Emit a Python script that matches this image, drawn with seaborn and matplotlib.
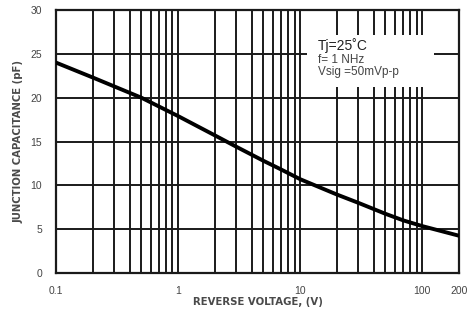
import matplotlib
matplotlib.use("Agg")
import matplotlib.pyplot as plt
import seaborn as sns
import pandas as pd
from matplotlib.ticker import FixedLocator, NullFormatter
from matplotlib.patches import Rectangle

voltage = [0.1, 0.2, 0.5, 1, 2, 3, 5, 7, 10, 20, 30, 50, 70, 100, 200]
capacitance = [24.0, 22.3, 20.0, 17.9, 15.7, 14.4, 12.8, 11.8, 10.7, 8.95, 8.0, 6.75, 6.0, 5.35, 4.25]
x_ticks = [0.1, 1, 10, 100, 200]
x_tick_labels = ["0.1", "1", "10", "100", "200"]
y_ticks = [0, 5, 10, 15, 20, 25, 30]

df = pd.DataFrame({"V": voltage, "C": capacitance})

sns.set_theme(style="white")
plt.rcParams['font.family'] = ['Liberation Sans', 'DejaVu Sans']

fig = plt.figure(figsize=(4.7, 3.11), dpi=100)
ax = fig.add_axes([56/470, 1 - 273/311, (459-56)/470, (273-10)/311])

ax.set_xscale("log")
ax.set_xlim(0.1, 200)
ax.set_ylim(0, 30)

minor = [m * 10.0**e for e in range(-1, 3) for m in range(2, 10)]
minor = [v for v in minor if v < 200]
ax.xaxis.set_major_locator(FixedLocator(x_ticks))
ax.xaxis.set_minor_locator(FixedLocator(minor))
ax.xaxis.set_minor_formatter(NullFormatter())
ax.set_xticklabels(x_tick_labels)
ax.set_yticks(y_ticks)
ax.grid(True, which="both", axis="x", color="#1a1a1a", linewidth=1.4)
ax.grid(True, which="major", axis="y", color="#1a1a1a", linewidth=1.4)
ax.set_axisbelow(True)

sns.lineplot(data=df, x="V", y="C", ax=ax, color="black", linewidth=2.8, zorder=3)

for s in ax.spines.values():
    s.set_color("#1a1a1a")
    s.set_linewidth(1.6)

ax.tick_params(axis="both", which="both", length=0, labelsize=7.5, colors="#444444")
ax.tick_params(axis="x", pad=9)
ax.tick_params(axis="y", pad=10)

ax.set_xlabel("REVERSE VOLTAGE, (V)", fontsize=7.3, color="#4a4a4a", fontweight="bold",
              family=["DejaVu Sans"], labelpad=1)
ax.set_ylabel("JUNCTION CAPACITANCE (pF)", fontsize=7.3, color="#4a4a4a", fontweight="bold",
              family=["DejaVu Sans"], labelpad=5)

x0, x1 = 307/470, 434/470
y0, y1 = 1 - 87/311, 1 - 35/311
fig.patches.append(Rectangle((x0, y0), x1 - x0, y1 - y0, transform=fig.transFigure,
                             facecolor="white", edgecolor="none", zorder=5))
fig.text(318/470, 1 - 46/311, "Tj=25˚C", fontsize=10, color="#222222", va="center", zorder=6)
fig.text(318/470, 1 - 60/311, "f= 1 NHz", fontsize=8.5, color="#444444", va="center", zorder=6)
fig.text(318/470, 1 - 72/311, "Vsig =50mVp-p", fontsize=8.5, color="#444444", va="center", zorder=6)

fig.savefig("out.png", dpi=100, facecolor="white")
